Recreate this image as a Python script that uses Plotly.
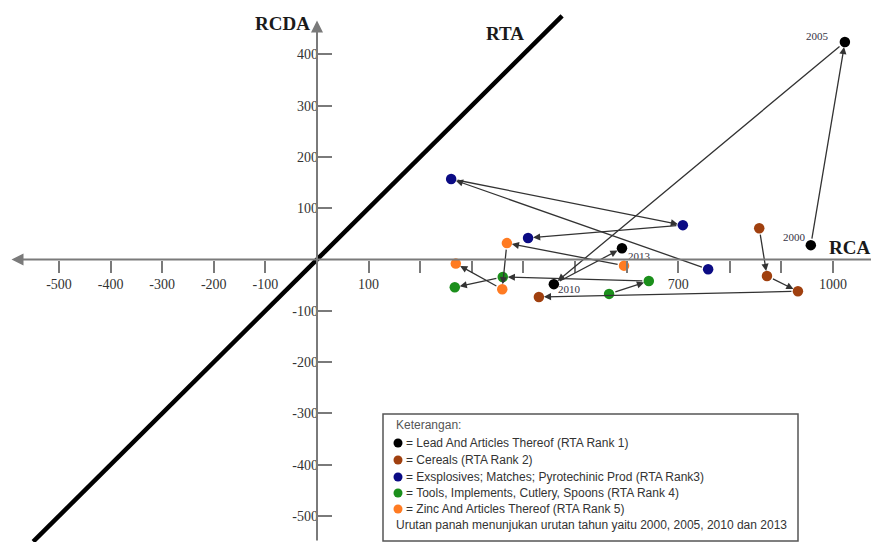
import plotly.graph_objects as go

# ---------------- data (RCA on x, RCDA on y), years 2000, 2005, 2010, 2013 ----------------
years = ["2000", "2005", "2010", "2013"]

lead_x = [957, 1023, 459, 591]
lead_y = [28, 424, -48, 22]

cereals_x = [857, 872, 932, 430]
cereals_y = [61, -32, -62, -73]

explosives_x = [758, 260, 709, 409]
explosives_y = [-19, 157, 67, 42]

tools_x = [566, 643, 360, 267]
tools_y = [-67, -42, -34, -54]

zinc_x = [595, 368, 359, 269]
zinc_y = [-12, 32, -58, -8]

rta_x = [-550, 475]
rta_y = [-550, 475]

x_tickvals = [-500, -400, -300, -200, -100, 100, 200, 300, 400, 500, 600, 700, 800, 900, 1000]
x_ticktext = ["-500", "-400", "-300", "-200", "-100", "100", "", "", "", "", "", "700", "", "", "1000"]
y_tickvals = [-500, -400, -300, -200, -100, 100, 200, 300, 400]
y_ticktext = ["-500", "-400", "-300", "-200", "-100", "100", "200", "300", "400"]

series_names = [
    "Lead And Articles Thereof (RTA Rank 1)",
    "Cereals (RTA Rank 2)",
    "Exsplosives; Matches; Pyrotechinic Prod (RTA Rank3)",
    "Tools, Implements, Cutlery, Spoons (RTA Rank 4)",
    "Zinc And Articles Thereof (RTA Rank 5)",
]
series_colors = ["#000000", "#a0400f", "#0b0b84", "#1b8f1b", "#ff7b22"]
series_x = [lead_x, cereals_x, explosives_x, tools_x, zinc_x]
series_y = [lead_y, cereals_y, explosives_y, tools_y, zinc_y]

# ---------------- layout geometry (page body has an 8px margin) ----------------
OFF = 8
W, H = 879 - OFF, 542 - OFF
x_range = [-598.8, 1089.1]
y_range = [-550.7, 490.3]


def px(x):
    return (x - OFF) / W


def py(y):
    return 1 - (y - OFF) / H


x_axis_pos = (0 - y_range[0]) / (y_range[1] - y_range[0])  # where y = 0
y_axis_pos = (0 - x_range[0]) / (x_range[1] - x_range[0])  # where x = 0

SERIF = "Liberation Serif, Times New Roman, serif"
SANS = "Liberation Sans, Arial, sans-serif"
AXIS_COL = "#7a7a7a"

fig = go.Figure()

# RTA diagonal
fig.add_trace(go.Scatter(x=rta_x, y=rta_y, mode="lines",
                         line=dict(color="black", width=4.5), hoverinfo="skip"))

annotations = []

# arrows between consecutive years
for xs, ys in zip(series_x, series_y):
    for i in range(len(xs) - 1):
        annotations.append(dict(
            x=xs[i + 1], y=ys[i + 1], ax=xs[i], ay=ys[i],
            xref="x", yref="y", axref="x", ayref="y",
            text="", showarrow=True, arrowhead=2, arrowsize=1.1,
            arrowwidth=1.3, arrowcolor="#333333", standoff=5, startstandoff=5,
        ))

# series markers
for k, (xs, ys) in enumerate(zip(series_x, series_y)):
    fig.add_trace(go.Scatter(
        x=xs, y=ys, mode="markers",
        marker=dict(color=series_colors[k], size=10.5), name=series_names[k]))

# year labels next to the Lead points
year_shift = [(-16, 8), (-27, 6), (16, -5), (18, -8)]
for i, yr in enumerate(years):
    annotations.append(dict(x=lead_x[i], y=lead_y[i], xref="x", yref="y", text=yr,
                            showarrow=False, xshift=year_shift[i][0], yshift=year_shift[i][1],
                            font=dict(family=SERIF, size=11, color="#333344")))

# axis lines with arrows
annotations.append(dict(x=-592, y=0, ax=x_range[1], ay=0, xref="x", yref="y",
                        axref="x", ayref="y", text="", showarrow=True, arrowhead=2,
                        arrowsize=1.2, arrowwidth=2, arrowcolor=AXIS_COL, standoff=0))
annotations.append(dict(x=0, y=466, ax=0, ay=y_range[0], xref="x", yref="y",
                        axref="x", ayref="y", text="", showarrow=True, arrowhead=2,
                        arrowsize=1.2, arrowwidth=2, arrowcolor=AXIS_COL, standoff=0))

# axis titles
annotations.append(dict(x=0, y=461, xref="x", yref="y", text="<b>RCDA</b>",
                        showarrow=False, xanchor="right", yanchor="middle", xshift=-5,
                        font=dict(family=SERIF, size=19, color="#1a1a1a")))
annotations.append(dict(x=1000, y=0, xref="x", yref="y", text="<b>RCA</b>",
                        showarrow=False, xanchor="left", yanchor="bottom", xshift=-6, yshift=0,
                        font=dict(family=SERIF, size=19, color="#1a1a1a")))
annotations.append(dict(x=365, y=441, xref="x", yref="y", text="<b>RTA</b>",
                        showarrow=False, xanchor="center", yanchor="middle",
                        font=dict(family=SERIF, size=19, color="#1a1a1a")))

shapes = [dict(type="rect", xref="paper", yref="paper",
               x0=px(383), x1=px(798), y0=py(541), y1=py(414),
               line=dict(color="#555555", width=1.5), fillcolor="rgba(0,0,0,0)",
               layer="below")]

# legend box (as text lines with round bullets)
legend_ys = [425, 443, 460, 477, 493, 509, 525]
annotations.append(dict(x=px(394), y=py(legend_ys[0]), xref="paper", yref="paper",
                        text="Keterangan:", showarrow=False, xanchor="left", yanchor="middle",
                        font=dict(family=SANS, size=12, color="#555555")))
for name, col, ly in zip(series_names, series_colors, legend_ys[1:6]):
    shapes.append(dict(type="circle", xref="paper", yref="paper",
                       xsizemode="pixel", ysizemode="pixel",
                       xanchor=px(398), yanchor=py(ly), x0=-4.5, x1=4.5, y0=-4.5, y1=4.5,
                       fillcolor=col, line=dict(width=0)))
    annotations.append(dict(x=px(404), y=py(ly), xref="paper", yref="paper",
                            text=f"= {name}", showarrow=False, xanchor="left", yanchor="middle",
                            font=dict(family=SANS, size=12, color="#333333")))
annotations.append(dict(x=px(394), y=py(legend_ys[6]), xref="paper", yref="paper",
                        text="Urutan panah menunjukan urutan tahun yaitu 2000, 2005, 2010 dan 2013",
                        showarrow=False, xanchor="left", yanchor="middle",
                        font=dict(family=SANS, size=12, color="#333333")))

fig.update_layout(
    width=W, height=H, margin=dict(l=0, r=0, t=0, b=0),
    plot_bgcolor="white", paper_bgcolor="white", showlegend=False,
    annotations=annotations, shapes=shapes,
    xaxis=dict(range=x_range, anchor="free", position=x_axis_pos,
               showgrid=False, zeroline=False, showline=False,
               tickmode="array", tickvals=x_tickvals, ticktext=x_ticktext,
               ticks="outside", ticklen=12, tickwidth=2, tickcolor=AXIS_COL,
               tickfont=dict(family=SERIF, size=14, color="#333333"),
               automargin=False, fixedrange=True),
    yaxis=dict(range=y_range, anchor="free", position=y_axis_pos,
               showgrid=False, zeroline=False, showline=False,
               tickmode="array", tickvals=y_tickvals, ticktext=y_ticktext,
               ticks="inside", ticklen=14, tickwidth=2, tickcolor=AXIS_COL,
               ticklabelstandoff=-1,
               tickfont=dict(family=SERIF, size=14, color="#333333"),
               automargin=False, fixedrange=True),
)

fig.write_html("out.html")
